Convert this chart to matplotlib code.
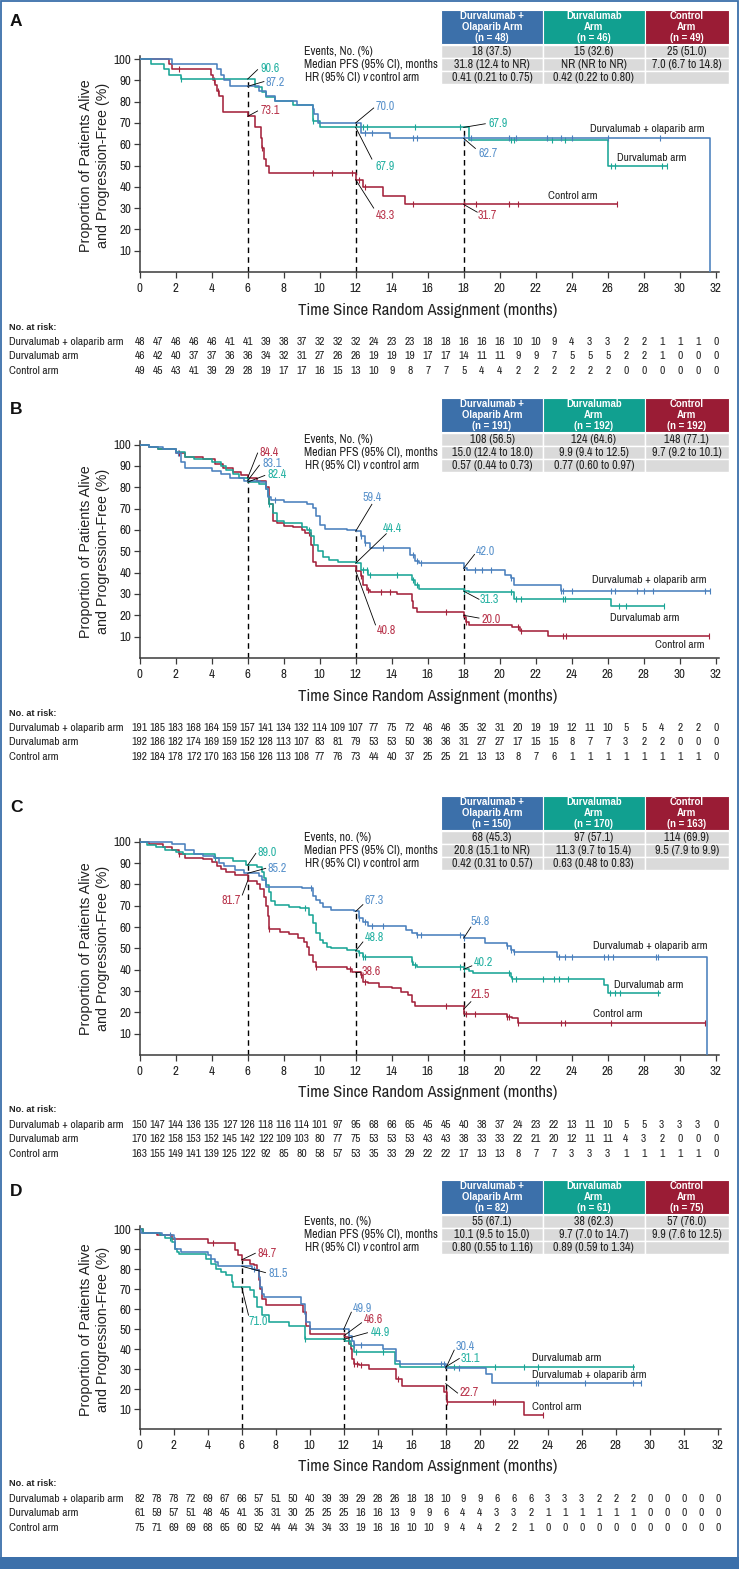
import numpy as np
import matplotlib
matplotlib.use("Agg")
import matplotlib.pyplot as plt
from matplotlib import font_manager as fm
from matplotlib.patches import Rectangle
from matplotlib.transforms import blended_transform_factory

## fonts: the original uses a condensed face; take one if installed, else Liberation Sans
_fonts = fm.fontManager.ttflist
_narrow = sorted({f.name for f in _fonts if 'Narrow' in f.name or 'Condensed' in f.name})
if 'Liberation Sans Narrow' in _narrow:
    _narrow = ['Liberation Sans Narrow']
_cond_dv = any(f.name == 'DejaVu Sans' and str(f.stretch) == 'condensed' for f in _fonts)
if _narrow:
    MAIN = [_narrow[0], 'DejaVu Sans']
    K = 1.18
elif _cond_dv:
    MAIN = ['DejaVu Sans']
    plt.rcParams['font.stretch'] = 'condensed'
    K = 0.97
else:
    MAIN = ['Liberation Sans', 'DejaVu Sans']
    K = 1.0
REG = ['Liberation Sans', 'DejaVu Sans']


def _has_bold(name):
    for f in _fonts:
        if f.name == name and (f.weight == 'bold' or (isinstance(f.weight, int) and f.weight >= 600)):
            return True
    return False


if _has_bold(MAIN[0]):
    BOLD, KB = MAIN, K
else:
    BOLD, KB = REG, 1.0

plt.rcParams['font.family'] = MAIN
plt.rcParams['mathtext.fontset'] = 'custom'
plt.rcParams['mathtext.rm'] = MAIN[0]
plt.rcParams['mathtext.it'] = MAIN[0] + ':italic'

## ---------------- data ----------------
xticks_abc = list(range(0, 33, 2))
xticklabels_abc = [str(v) for v in xticks_abc]
xticks_d = list(range(0, 35, 2))
xticklabels_d = ['0', '2', '4', '6', '8', '10', '12', '14', '16', '18', '20', '22',
                 '24', '26', '28', '30', '31', '32']
yticks = list(range(10, 101, 10))
landmarks = [6, 12, 18]

# Panel A
a_n = [48, 46, 49]
a_events = ['18 (37.5)', '15 (32.6)', '25 (51.0)']
a_median = ['31.8 (12.4 to NR)', 'NR (NR to NR)', '7.0 (6.7 to 14.8)']
a_hr = ['0.41 (0.21 to 0.75)', '0.42 (0.22 to 0.80)', '']
a_olap_t = [0, 1.8, 4.3, 4.5, 4.7, 5.0, 6.6, 7.0, 7.5, 8.75, 9.6, 9.7, 9.9, 12.3, 13.9, 31.7]
a_olap_s = [100, 97.6, 95.1, 92.7, 90.2, 87.2, 84.8, 82.8, 80.3, 78.4, 76.3, 74.2, 70.0, 65.3, 62.7, 0]
a_olap_end = 31.7
a_olap_cens = [12.5, 12.9, 15.2, 15.4, 18.0, 18.4, 20.5, 20.9, 22.6, 23.4, 24.0, 26.0, 28.9]
a_durv_t = [0, 0.6, 1.35, 1.6, 2.3, 6.4, 6.8, 7.0, 7.5, 8.5, 9.6, 10.0, 18.3, 26.0]
a_durv_s = [100, 97.6, 95.1, 92.7, 90.6, 86.9, 84.5, 82.0, 80.3, 78.4, 70.8, 67.9, 62.1, 50.0]
a_durv_end = 29.3
a_durv_cens = [2.3, 9.6, 12.4, 12.6, 15.3, 17.8, 20.6, 20.8, 22.9, 23.6, 26.2, 26.4, 29.0, 29.3]
a_ctrl_t = [0, 1.6, 1.8, 3.95, 4.05, 4.2, 4.3, 4.4, 4.6, 6.0, 6.4, 6.75, 6.8, 6.9, 7.0, 7.2, 12.0, 12.4, 13.5,
            14.75]
a_ctrl_s = [100, 97.6, 95.1, 92.5, 90.0, 87.8, 85.0, 82.8, 75.3, 73.1, 68.0, 63.0, 58.0, 53.0, 50.0, 46.3,
            43.3, 40.0, 35.6, 31.7]
a_ctrl_end = 26.5
a_ctrl_cens = [2.2, 4.15, 4.35, 6.8, 9.6, 10.7, 11.8, 12.2, 12.5, 15.2, 18.0, 18.7, 20.5, 21.0, 26.5]
a_risk_olap = [48, 47, 46, 46, 46, 41, 41, 39, 38, 37, 32, 32, 32, 24, 23, 23, 18, 18, 16, 16, 16, 10, 10, 9,
               4, 3, 3, 2, 2, 1, 1, 1, 0]
a_risk_durv = [46, 42, 40, 37, 37, 36, 36, 34, 32, 31, 27, 26, 26, 19, 19, 19, 17, 17, 14, 11, 11, 9, 9, 7,
               5, 5, 5, 2, 2, 1, 0, 0, 0]
a_risk_ctrl = [49, 45, 43, 41, 39, 29, 28, 19, 17, 17, 16, 15, 13, 10, 9, 8, 7, 7, 5, 4, 4, 2, 2, 2, 2, 2, 2,
               0, 0, 0, 0, 0, 0]
a_mark_olap = [87.2, 70.0, 62.7]
a_mark_durv = [90.6, 67.9, 67.9]
a_mark_ctrl = [73.1, 43.3, 31.7]

# Panel B
b_n = [191, 192, 192]
b_events = ['108 (56.5)', '124 (64.6)', '148 (77.1)']
b_median = ['15.0 (12.4 to 18.0)', '9.9 (9.4 to 12.5)', '9.7 (9.2 to 10.1)']
b_hr = ['0.57 (0.44 to 0.73)', '0.77 (0.60 to 0.97)', '']
b_olap_t = [0, 0.5, 1.3, 2.0, 2.3, 2.5, 4.0, 4.5, 5.0, 5.8, 6.7, 7.0, 7.1, 7.3, 8.0, 9.3, 9.6, 9.8, 10.0,
            10.3, 11.5, 12.0, 12.3, 12.5, 12.8, 15.0, 15.3, 15.5, 18.0, 18.2, 20.3, 20.6, 20.8, 23.4]
b_olap_s = [100, 99, 98, 96, 92, 89, 87.5, 86, 84.5, 83.1, 82.3, 79, 75.5, 74, 73, 72, 70.3, 66.4, 62.5,
            60.6, 60.0, 59.4, 57, 54, 51.3, 48.4, 45.6, 44.4, 42.0, 41, 39, 37.5, 34.4, 31.6]
b_olap_end = 31.7
b_olap_cens = [2.1, 7.5, 12.3, 12.5, 13.5, 15.2, 15.4, 15.6, 18.6, 19.0, 19.5, 20.6, 23.4, 23.5, 24.0,
               26.2, 26.4, 27.6, 28.0, 28.5, 31.4, 31.7]
b_durv_t = [0, 0.5, 1.0, 2.0, 2.5, 3.0, 4.0, 4.5, 4.8, 5.2, 5.5, 6.0, 6.6, 7.0, 7.1, 7.2, 7.4, 7.6, 8.0, 9.0,
            9.3, 9.5, 9.7, 9.9, 10.2, 10.5, 11.0, 12.0, 12.3, 12.7, 15.1, 15.3, 15.5, 18.0, 18.3, 20.8, 26.2]
b_durv_s = [100, 99, 98, 96.5, 94, 93, 92, 90, 88, 86, 84.5, 82.4, 81.5, 79, 76, 72, 68, 64, 63, 61.5,
            60, 57, 53, 50, 47.5, 46, 45, 44.4, 41.4, 39, 36.7, 34.4, 32.5, 31.3, 31, 27.8, 24.2]
b_durv_end = 29.1
b_durv_cens = [7.2, 9.4, 12.4, 12.6, 12.8, 14.3, 15.2, 15.4, 18.0, 20.6, 20.9, 21.2, 23.5, 23.6, 26.6,
               27.0, 29.1]
b_ctrl_t = [0, 0.5, 1.0, 2.0, 2.5, 3.5, 4.2, 4.6, 5.2, 5.6, 6.0, 6.5, 7.0, 7.2, 7.4, 7.6, 8.0, 8.5, 9.0,
            9.2, 9.5, 9.6, 9.8, 12.0, 12.3, 12.4, 12.6, 12.8, 14.3, 15.1, 15.2, 15.4, 18.0, 18.1, 18.3, 20.7,
            21.1, 22.7]
b_ctrl_s = [100, 99, 98, 96, 94, 93, 91, 89, 87, 85.5, 84.4, 83, 80, 72, 64, 63, 62, 61.5, 60, 58.5, 53,
            45, 43, 40.8, 38.3, 34.4, 32, 31, 30.2, 26.6, 23.4, 21.6, 19.2, 16.9, 15.6, 14.4, 12.5, 10.5]
b_ctrl_end = 31.6
b_ctrl_cens = [2.2, 9.4, 12.3, 12.7, 13.4, 13.9, 17.0, 18.1, 21.0, 21.2, 23.5, 23.7, 31.6]
b_risk_olap = [191, 185, 183, 168, 164, 159, 157, 141, 134, 132, 114, 109, 107, 77, 75, 72, 46, 46, 35, 32,
               31, 20, 19, 19, 12, 11, 10, 5, 5, 4, 2, 2, 0]
b_risk_durv = [192, 186, 182, 174, 169, 159, 152, 128, 113, 107, 83, 81, 79, 53, 53, 50, 36, 36, 31, 27,
               27, 17, 15, 15, 8, 7, 7, 3, 2, 2, 0, 0, 0]
b_risk_ctrl = [192, 184, 178, 172, 170, 163, 156, 126, 113, 108, 77, 76, 73, 44, 40, 37, 25, 25, 21, 13,
               13, 8, 7, 6, 1, 1, 1, 1, 1, 1, 1, 1, 0]
b_mark_olap = [83.1, 59.4, 42.0]
b_mark_durv = [82.4, 44.4, 31.3]
b_mark_ctrl = [84.4, 40.8, 20.0]

# Panel C
c_n = [150, 170, 163]
c_events = ['68 (45.3)', '97 (57.1)', '114 (69.9)']
c_median = ['20.8 (15.1 to NR)', '11.3 (9.7 to 15.4)', '9.5 (7.9 to 9.9)']
c_hr = ['0.42 (0.31 to 0.57)', '0.63 (0.48 to 0.83)', '']
c_olap_t = [0, 1.8, 2.5, 3.0, 3.5, 4.1, 4.4, 4.7, 5.3, 5.8, 6.6, 6.8, 7.0, 9.0, 9.6, 9.8, 10.0, 10.2, 10.6,
            11.9, 12.2, 12.4, 12.7, 14.8, 15.1, 15.4, 18.0, 19.2, 20.4, 20.6, 20.8, 23.2, 31.5]
c_olap_s = [100, 98.7, 96, 94, 93.5, 92.5, 90, 88.6, 86.5, 85.2, 84, 82, 78.9, 78.1, 74.5, 72.7, 71.1, 69.5,
            68, 67.3, 64, 62.5, 60.6, 58.6, 57, 56.3, 54.8, 52.6, 51, 49, 48.4, 46, 0]
c_olap_end = 31.5
c_olap_cens = [9.5, 12.2, 12.5, 12.9, 13.5, 15.4, 15.6, 17.8, 18.0, 20.4, 20.6, 20.8, 23.3, 23.6, 24.0,
               25.8, 26.0, 26.3, 28.7, 28.8]
c_durv_t = [0, 0.4, 0.9, 1.4, 2.0, 2.4, 4.2, 5.2, 5.9, 6.5, 6.8, 6.9, 7.0, 7.2, 7.3, 7.5, 8.3, 8.9, 9.4,
            9.6, 9.8, 10.0, 10.2, 10.4, 10.6, 11.5, 12.0, 12.2, 12.4, 15.1, 15.2, 15.4, 18.0, 18.3, 18.5,
            20.6, 20.7, 25.8, 26.0]
c_durv_s = [100, 98.5, 97.5, 96, 95, 94, 92.5, 91, 89.0, 88, 86, 82.8, 79.7, 76.5, 72, 70.3, 69.5, 68.8,
            65.6, 61.7, 57, 54, 52.3, 50.8, 50, 49.2, 48.8, 47.7, 45.8, 43.8, 42.2, 41.1, 40.2, 39.4, 38.3,
            36.7, 35.6, 32.8, 29.0]
c_durv_end = 28.9
c_durv_cens = [4.2, 9.2, 12.2, 12.4, 12.5, 15.1, 15.3, 17.8, 18.0, 20.5, 20.7, 20.9, 22.4, 23.0, 23.3,
               23.8, 26.1, 26.4, 26.7, 28.8]
c_ctrl_t = [0, 0.5, 1.3, 1.8, 2.2, 2.5, 3.5, 4.0, 4.3, 4.5, 4.8, 5.3, 6.0, 6.5, 6.7, 6.9, 7.0, 7.1, 7.2,
            7.8, 8.3, 8.8, 9.1, 9.3, 9.4, 9.6, 9.8, 11.5, 11.8, 12.3, 12.4, 12.7, 13.3, 14.0, 14.5, 14.9,
            15.1, 15.3, 18.0, 20.4, 20.7, 21.0]
c_ctrl_s = [100, 98.7, 97.5, 96, 94, 92.5, 92, 90.5, 88.5, 87, 86, 84.5, 81.7, 80, 78, 74, 70, 65, 59,
            57.8, 56.7, 54.7, 53.1, 50.8, 46.9, 43.75, 41.4, 40.2, 39, 37.5, 34.4, 33.6, 32, 31.25, 29.7,
            28.1, 25, 23, 19, 18, 17.2, 15.2]
c_ctrl_end = 31.4
c_ctrl_cens = [2.2, 7.2, 9.8, 11.7, 12.3, 12.5, 17.0, 18.1, 18.6, 20.4, 20.5, 21.0, 23.4, 23.6, 26.2, 31.4]
c_risk_olap = [150, 147, 144, 136, 135, 127, 126, 118, 116, 114, 101, 97, 95, 68, 66, 65, 45, 45, 40, 38,
               37, 24, 23, 22, 13, 11, 10, 5, 5, 3, 3, 3, 0]
c_risk_durv = [170, 162, 158, 153, 152, 145, 142, 122, 109, 103, 80, 77, 75, 53, 53, 53, 43, 43, 38, 33,
               33, 22, 21, 20, 12, 11, 11, 4, 3, 2, 0, 0, 0]
c_risk_ctrl = [163, 155, 149, 141, 139, 125, 122, 92, 85, 80, 58, 57, 53, 35, 33, 29, 22, 22, 17, 13, 13,
               8, 7, 7, 3, 3, 3, 1, 1, 1, 1, 1, 0]
c_mark_olap = [85.2, 67.3, 54.8]
c_mark_durv = [89.0, 48.8, 40.2]
c_mark_ctrl = [81.7, 38.6, 21.5]

# Panel D
d_n = [82, 61, 75]
d_events = ['55 (67.1)', '38 (62.3)', '57 (76.0)']
d_median = ['10.1 (9.5 to 15.0)', '9.7 (7.0 to 14.7)', '9.9 (7.6 to 12.5)']
d_hr = ['0.80 (0.55 to 1.16)', '0.89 (0.59 to 1.34)', '']
d_olap_t = [0, 0.1, 1.3, 2.0, 2.1, 2.4, 4.0, 4.2, 4.4, 4.6, 6.6, 6.8, 7.0, 7.1, 7.2, 7.3, 9.5, 9.7, 9.8,
            10.0, 12.3, 12.5, 12.6, 14.3, 15.1, 15.3, 18.0, 20.4, 20.7]
d_olap_s = [100, 98.3, 97.0, 95.5, 90.3, 88.6, 87.0, 85.3, 83.6, 81.5, 80.3, 79.4, 76, 71, 67.7, 66, 62.7,
            57.7, 53.5, 49.9, 46.8, 44.3, 42.1, 40.1, 34.3, 32.6, 30.4, 27.6, 22.8]
d_olap_end = 29.5
d_olap_cens = [1.8, 6.7, 12.6, 13.0, 17.7, 17.9, 18.8, 23.3, 23.4, 26.2, 29.0, 29.5]
d_durv_t = [0, 0.2, 1.2, 1.5, 1.9, 2.1, 2.2, 2.3, 3.9, 4.2, 4.5, 4.8, 5.1, 5.4, 5.5, 6.5, 6.7, 6.9, 7.2,
            7.6, 8.8, 9.7, 12.1, 12.4, 12.6, 15.0, 15.3]
d_durv_s = [100, 98.3, 97, 95.5, 93.5, 90, 88.6, 87.8, 85.3, 82.8, 80, 78.5, 76.9, 73.6, 71.0, 69.4, 66,
            61, 57.2, 53.8, 51.8, 45.0, 44.3, 41.8, 38.5, 32.6, 31.1]
d_durv_end = 29.1
d_durv_cens = [1.8, 9.7, 12.3, 12.7, 14.3, 18.5, 20.9, 22.6, 23.4, 29.0]
d_ctrl_t = [0, 0.2, 1.0, 1.9, 4.0, 5.6, 5.8, 6.0, 6.5, 6.7, 6.9, 7.0, 7.1, 7.2, 7.4, 9.6, 9.8, 10.0, 12.1,
            12.3, 12.4, 12.5, 12.6, 12.9, 13.5, 15.1, 15.4, 17.9, 18.1, 22.6]
d_ctrl_s = [100, 98.3, 97, 95, 93.3, 89.5, 87, 84.7, 82.8, 81.9, 79.4, 74.4, 70.2, 64.9, 61.9, 58.5, 51.8,
            47.7, 46.0, 42.6, 40.1, 35.1, 32.6, 31.8, 30.1, 25, 21.7, 18.4, 13.7, 7.0]
d_ctrl_end = 23.7
d_ctrl_cens = [4.3, 12.6, 12.8, 13.0, 15.2, 18.0, 18.1, 20.8, 20.9, 23.7]
d_risk_olap = [82, 78, 78, 72, 69, 67, 66, 57, 51, 50, 40, 39, 39, 29, 28, 26, 18, 18, 10, 9, 9, 6, 6, 6,
               3, 3, 3, 2, 2, 2, 0, 0, 0, 0, 0]
d_risk_durv = [61, 59, 57, 51, 48, 45, 41, 35, 31, 30, 25, 25, 25, 16, 16, 13, 9, 9, 6, 4, 4, 3, 3, 2, 1,
               1, 1, 1, 1, 1, 0, 0, 0, 0, 0]
d_risk_ctrl = [75, 71, 69, 69, 68, 65, 60, 52, 44, 44, 34, 34, 33, 19, 16, 16, 10, 10, 9, 4, 4, 2, 2, 1,
               0, 0, 0, 0, 0, 0, 0, 0, 0, 0, 0]
d_mark_olap = [81.5, 49.9, 30.4]
d_mark_durv = [71.0, 44.9, 31.1]
d_mark_ctrl = [84.7, 46.6, 22.7]

arm_names = ['Durvalumab + olaparib arm', 'Durvalumab arm', 'Control arm']

## ---------------- styling / layout ----------------
W, H = 739, 1569
HEAD = ['#3c70aa', '#11a090', '#9a1c35']
LINE = ['#4a80bd', '#1aa596', '#a4233c']
LAB = ['#5b93cc', '#27b2a3', '#b9364d']
FRAME = '#3c70aa'
X0 = 139.7
COLS = [441, 543, 644.5, 729]
FS_SMALL = 7.0 * K      # at-risk rows, arm labels
FS_TAB = 7.3 * K        # table body
FS_HEAD = 6.9 * KB      # table header (bold)
FS_MARK = 7.4 * K       # landmark values
FS_TICK = 7.9 * K
FS_XLAB = 10.2 * K

# leader-line end and text position for each landmark label (data coords), per arm
A_POS = [[(6.9, 89.4, 7.0, 88.8, 'left'), (13.0, 77.0, 13.1, 77.8, 'left'), (18.65, 58.0, 18.8, 55.8, 'left')],
         [(6.55, 95.0, 6.7, 95.6, 'left'), (12.9, 53.0, 13.1, 49.7, 'left'), (19.2, 69.6, 19.4, 69.8, 'left')],
         [(6.55, 75.6, 6.7, 75.8, 'left'), (13.0, 30.0, 13.1, 26.6, 'left'), (18.75, 28.1, 18.8, 26.6, 'left')]]
B_POS = [[(6.65, 90.3, 6.8, 91.0, 'left'), (12.9, 72.0, 12.4, 75.3, 'left'), (18.6, 48.5, 18.7, 50.0, 'left')],
         [(6.95, 85.5, 7.1, 86.0, 'left'), (13.7, 58.2, 13.5, 60.6, 'left'), (18.85, 27.5, 18.9, 27.5, 'left')],
         [(6.55, 96.0, 6.65, 96.2, 'left'), (13.1, 15.5, 13.2, 12.8, 'left'), (18.85, 18.7, 19.0, 18.0, 'left')]]
C_POS = [[(7.0, 87.5, 7.1, 87.5, 'left'), (12.4, 70.5, 12.5, 72.3, 'left'), (18.4, 60.0, 18.4, 62.5, 'left')],
         [(6.45, 94.5, 6.55, 95.0, 'left'), (12.4, 53.0, 12.5, 55.0, 'left'), (18.45, 41.8, 18.55, 43.5, 'left')],
         [(5.7, 75.0, 5.6, 72.3, 'right'), (12.25, 38.8, 12.35, 39.0, 'left'), (18.4, 25.0, 18.35, 28.5, 'left')]]
D_POS = [[(7.4, 78.3, 7.55, 78.0, 'left'), (12.45, 58.5, 12.55, 60.5, 'left'), (18.5, 39.5, 18.6, 41.5, 'left')],
         [(6.4, 57.0, 6.4, 53.7, 'left'), (13.4, 48.2, 13.6, 48.5, 'left'), (18.8, 35.3, 18.9, 35.5, 'left')],
         [(6.8, 88.0, 6.9, 87.8, 'left'), (13.05, 53.2, 13.2, 54.8, 'left'), (18.7, 18.0, 18.8, 18.4, 'left')]]
A_ARM = [(25.0, 67.0), (26.5, 53.4), (22.7, 35.6)]
B_ARM = [(25.1, 36.7), (26.1, 18.8), (28.6, 5.9)]
C_ARM = [(25.2, 51.0), (26.35, 33.0), (25.2, 19.2)]
D_ARM = [(23.1, 26.8), (23.1, 35.6), (23.1, 11.2)]

panels = [
    dict(letter='A', top=10, y100=59.0, y0=272.0, ppm=18.0, xmax=32.2, xt=xticks_abc, xtl=xticklabels_abc,
         n=a_n, rows=[a_events, a_median, a_hr], ev='Events, No. (%)',
         curves=[(a_olap_t, a_olap_s, a_olap_end, a_olap_cens), (a_durv_t, a_durv_s, a_durv_end, a_durv_cens),
                 (a_ctrl_t, a_ctrl_s, a_ctrl_end, a_ctrl_cens)],
         risk=[a_risk_olap, a_risk_durv, a_risk_ctrl], marks=[a_mark_olap, a_mark_durv, a_mark_ctrl],
         pos=A_POS, arm=A_ARM),
    dict(letter='B', top=398, y100=444.5, y0=658.0, ppm=18.0, xmax=32.2, xt=xticks_abc, xtl=xticklabels_abc,
         n=b_n, rows=[b_events, b_median, b_hr], ev='Events, No. (%)',
         curves=[(b_olap_t, b_olap_s, b_olap_end, b_olap_cens), (b_durv_t, b_durv_s, b_durv_end, b_durv_cens),
                 (b_ctrl_t, b_ctrl_s, b_ctrl_end, b_ctrl_cens)],
         risk=[b_risk_olap, b_risk_durv, b_risk_ctrl], marks=[b_mark_olap, b_mark_durv, b_mark_ctrl],
         pos=B_POS, arm=B_ARM),
    dict(letter='C', top=796, y100=841.7, y0=1055.0, ppm=18.0, xmax=32.2, xt=xticks_abc, xtl=xticklabels_abc,
         n=c_n, rows=[c_events, c_median, c_hr], ev='Events, no. (%)',
         curves=[(c_olap_t, c_olap_s, c_olap_end, c_olap_cens), (c_durv_t, c_durv_s, c_durv_end, c_durv_cens),
                 (c_ctrl_t, c_ctrl_s, c_ctrl_end, c_ctrl_cens)],
         risk=[c_risk_olap, c_risk_durv, c_risk_ctrl], marks=[c_mark_olap, c_mark_durv, c_mark_ctrl],
         pos=C_POS, arm=C_ARM),
    dict(letter='D', top=1180, y100=1229.3, y0=1429.0, ppm=17.0, xmax=34.2, xt=xticks_d, xtl=xticklabels_d,
         n=d_n, rows=[d_events, d_median, d_hr], ev='Events, no. (%)',
         curves=[(d_olap_t, d_olap_s, d_olap_end, d_olap_cens), (d_durv_t, d_durv_s, d_durv_end, d_durv_cens),
                 (d_ctrl_t, d_ctrl_s, d_ctrl_end, d_ctrl_cens)],
         risk=[d_risk_olap, d_risk_durv, d_risk_ctrl], marks=[d_mark_olap, d_mark_durv, d_mark_ctrl],
         pos=D_POS, arm=D_ARM),
]

fig = plt.figure(figsize=(W / 100, H / 100), dpi=100)
fig.patch.set_facecolor('white')

# overlay in pixel coordinates for frame, tables and at-risk rows
over = fig.add_axes([0, 0, 1, 1])
over.set_xlim(0, W)
over.set_ylim(H, 0)
over.axis('off')
over.add_patch(Rectangle((0.8, 0.8), W - 1.6, H - 1.6, fill=False, edgecolor=FRAME, lw=1.3))
over.add_patch(Rectangle((0, 1557), W, 12, facecolor=FRAME, edgecolor='none'))

head_h, row_h = 33.5, 13.2
for p in panels:
    top = p['top']
    # panel letter
    over.text(10, top + 11, p['letter'], family=BOLD, fontsize=12.5, fontweight='bold', ha='left',
              va='center', color='#111')
    # table header
    heads = ['Durvalumab +\nOlaparib Arm\n(n = %d)' % p['n'][0],
             'Durvalumab\nArm\n(n = %d)' % p['n'][1],
             'Control\nArm\n(n = %d)' % p['n'][2]]
    for j in range(3):
        x1, x2 = COLS[j], COLS[j + 1]
        over.add_patch(Rectangle((x1, top), x2 - x1, head_h, facecolor=HEAD[j], edgecolor='white', lw=0.8))
        over.text((x1 + x2) / 2, top + head_h / 2 + 0.5, heads[j], color='white', family=BOLD,
                  fontsize=FS_HEAD, fontweight='bold', ha='center', va='center', linespacing=1.12)
        for i, row in enumerate(p['rows']):
            ry = top + head_h + 1 + i * row_h
            over.add_patch(Rectangle((x1, ry), x2 - x1, row_h, facecolor='#dadada', edgecolor='white', lw=1))
            over.text((x1 + x2) / 2, ry + row_h / 2, row[j], color='#222', fontsize=FS_TAB,
                      ha='center', va='center')
    labels = [p['ev'], 'Median PFS (95% CI), months', r'HR (95% CI) $\mathit{v}$ control arm']
    for i, lab in enumerate(labels):
        ry = top + head_h + 1 + i * row_h + row_h / 2
        over.text(304.5, ry, lab, color='#222', fontsize=FS_TAB, ha='left', va='center')

    # plot axes
    y0, y100, ppm, xmax = p['y0'], p['y100'], p['ppm'], p['xmax']
    ytop = y0 - (y0 - y100) * 1.015
    ax = fig.add_axes([X0 / W, 1 - y0 / H, xmax * ppm / W, (y0 - ytop) / H])
    ax.set_facecolor('none')
    ax.set_xlim(0, xmax)
    ax.set_ylim(0, 101.5)
    for s in ['top', 'right']:
        ax.spines[s].set_visible(False)
    for s in ['left', 'bottom']:
        ax.spines[s].set_color('#3a3a3a')
        ax.spines[s].set_linewidth(1.1)
    ax.set_xticks(p['xt'])
    ax.set_xticklabels(p['xtl'])
    ax.set_yticks(yticks)
    ax.tick_params(axis='both', direction='out', length=4, width=0.9, color='#3a3a3a',
                   labelsize=FS_TICK, labelcolor='#222')
    ax.tick_params(axis='x', pad=4)
    ax.tick_params(axis='y', pad=2)

    # dashed landmark lines up to the highest landmark value
    tops = [max(m[k] for m in p['marks']) for k in range(3)]
    ax.vlines(landmarks, 0, tops, colors='black', linestyles=(0, (4, 3)), lw=1.0, zorder=1)

    # Kaplan-Meier curves (control first so experimental arms sit on top)
    for j in [2, 1, 0]:
        t, s, end, cens = p['curves'][j]
        xs = list(t) + [end]
        ys = list(s) + [s[-1]]
        ax.step(xs, ys, where='post', color=LINE[j], lw=1.15, zorder=3)
        idx = np.searchsorted(t, cens, side='right') - 1
        cy = np.array(s)[idx]
        ax.plot(cens, cy, ls='none', marker='|', ms=4.5, mew=0.8, color=LINE[j], zorder=3)

    # landmark labels with leader lines
    for j in range(3):
        for k in range(3):
            v = p['marks'][j][k]
            lx, ly, tx, ty, ha = p['pos'][j][k]
            ax.plot([landmarks[k], lx], [v, ly], color='black', lw=0.6, zorder=4)
            ax.text(tx, ty, '%.1f' % v, color=LAB[j], fontsize=FS_MARK, ha=ha, va='center', zorder=5)

    # arm labels
    for j in range(3):
        ax.text(p['arm'][j][0], p['arm'][j][1], arm_names[j], fontsize=FS_SMALL, color='#222',
                ha='left', va='center')

    # axis titles
    over.text(94.5, (y100 + y0) / 2, 'Proportion of Patients Alive\nand Progression-Free (%)',
              rotation=90, ha='center', va='center', family=REG, fontsize=10.3, color='#222',
              linespacing=1.3)
    over.text(X0 + 16 * 2 * 9, y0 + 38, 'Time Since Random Assignment (months)', ha='center',
              va='center', fontsize=FS_XLAB, color='#222')

    # number at risk
    tr = blended_transform_factory(ax.transData, over.transData)
    over.text(9, y0 + 55, 'No. at risk:', family=BOLD, fontsize=6.6 * KB, fontweight='bold', ha='left',
              va='center', color='#222')
    for j in range(3):
        ry = y0 + 70 + j * 14.4
        over.text(9, ry, arm_names[j], fontsize=FS_SMALL, ha='left', va='center', color='#222')
        for m, val in enumerate(p['risk'][j]):
            ax.text(m, ry, str(val), transform=tr, fontsize=FS_SMALL, ha='center', va='center',
                    color='#222', clip_on=False)

fig.savefig('out.png', dpi=100)
